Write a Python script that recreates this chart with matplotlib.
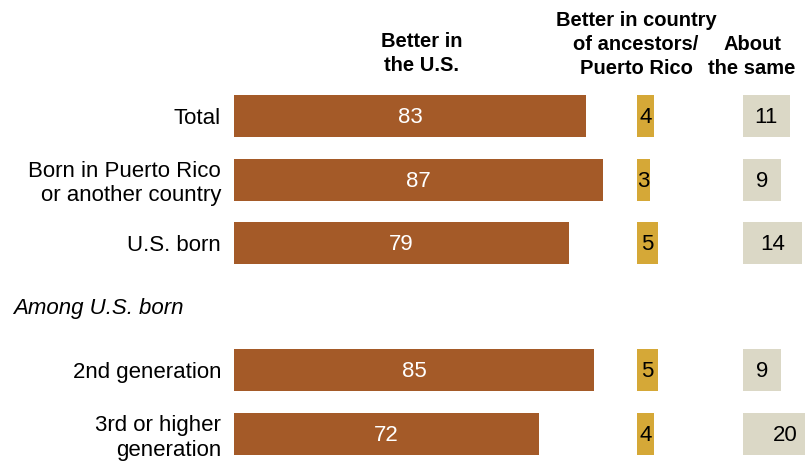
import matplotlib.pyplot as plt

categories = ["Total", "Born in Puerto Rico\nor another country", "U.S. born", "",
              "2nd generation", "3rd or higher\ngeneration"]
better_us = [83, 87, 79, None, 85, 72]
better_ancestors = [4, 3, 5, None, 5, 4]
about_same = [11, 9, 14, None, 9, 20]

headers = ["Better in\nthe U.S.", "Better in country\nof ancestors/\nPuerto Rico", "About\nthe same"]
colors = ["#A45A28", "#D5A837", "#DBD8C6"]
text_colors = ["white", "black", "black"]

W, H = 809, 461
fig = plt.figure(figsize=(W / 100, H / 100), dpi=100)
plt.rcParams['font.family'] = ['Liberation Sans', 'DejaVu Sans']

scale = 4.24  # px per percentage point
slot = 63.6
top_px = 116 - slot / 2
ax_h = slot * 6

# left px, right px for each column
cols = [(234, 630), (637, 720), (743, 805)]
series = [better_us, better_ancestors, about_same]
axes = []
for (l, r), vals, c, tc in zip(cols, series, colors, text_colors):
    ax = fig.add_axes([l / W, (H - top_px - ax_h) / H, (r - l) / W, ax_h / H])
    ax.set_xlim(0, (r - l) / scale)
    ax.set_ylim(5.5, -0.5)
    for i, v in enumerate(vals):
        if v is None:
            continue
        ax.barh(i, v, height=0.66, color=c)
        ax.text(v / 2, i + 1.5 / slot, str(v), ha="center", va="center", color=tc,
                fontsize=16, clip_on=False)
    ax.axis("off")
    axes.append(ax)

ax1 = axes[0]
for i, cat in enumerate(categories):
    if cat:
        off = 4 if "\n" in cat else 2
        ax1.text(-13 / scale, i + off / slot, cat, ha="right", va="center",
                 fontsize=16, linespacing=1.2)
ax1.text(-221 / scale, 3 + 2 / slot, "Among U.S. born", ha="left", va="center",
         fontsize=16, style="italic")

# column headers
fig.text(422 / W, 1 - 32 / H, headers[0], ha="center", va="top", fontsize=14.5,
         fontweight="bold", linespacing=1.35)
fig.text(636 / W, 1 - 11 / H, headers[1], ha="center", va="top", fontsize=14.5,
         fontweight="bold", linespacing=1.35)
fig.text(752 / W, 1 - 35 / H, headers[2], ha="center", va="top", fontsize=14.5,
         fontweight="bold", linespacing=1.35)

fig.savefig("out.png", dpi=100)
